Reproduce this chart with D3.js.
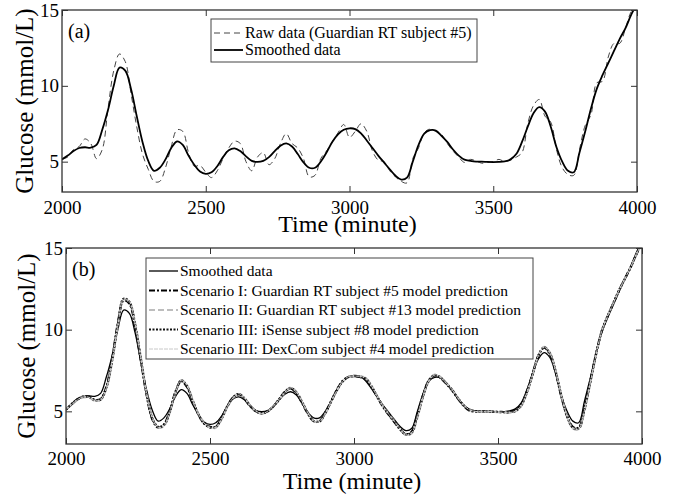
<!DOCTYPE html>
<html>
<head>
<meta charset="utf-8">
<script src="https://cdn.jsdelivr.net/npm/d3@7"></script>
<style>
  body { margin: 0; background: #fff; }
  svg { display: block; }
  svg text { font-family: "Liberation Serif", "Times New Roman", serif; fill: #000; }
</style>
</head>
<body>
<svg id="chart" width="677" height="494"></svg>
<script>
// sampling grid (minutes)
const times = d3.range(2000, 4001, 20);

const smoothed = [5.15,5.4,5.7,5.9,5.95,5.92,6.1,7.1,8.4,10.0,11.2,11.0,9.8,8.0,6.3,5.05,4.4,4.6,5.15,5.9,
  6.33,6.1,5.4,4.8,4.35,4.2,4.3,4.7,5.3,5.75,5.88,5.7,5.35,5.05,4.98,5.05,5.3,5.7,6.05,6.2,
  6.0,5.5,4.95,4.6,4.6,5.0,5.6,6.3,6.8,7.1,7.2,7.15,6.87,6.4,5.9,5.4,4.95,4.5,4.07,3.82,
  3.95,5.0,6.1,6.85,7.08,7.05,6.7,6.3,5.8,5.4,5.13,5.05,5.0,5.0,4.98,4.97,4.98,5.02,5.15,5.5,
  6.3,7.3,8.2,8.6,8.3,7.3,5.95,5.0,4.4,4.3,5.6,7.0,8.5,9.8,10.7,11.5,12.3,13.1,13.8,14.7,15.4];

const raw = [5.2,5.3,5.8,6.0,6.5,6.2,5.2,5.8,8.5,11.0,12.1,11.6,9.5,7.3,5.5,4.5,3.7,3.7,4.6,6.0,
  7.1,7.0,5.6,4.7,4.75,4.3,3.95,4.4,5.2,5.9,6.35,6.2,5.0,4.4,5.3,5.6,4.8,5.2,6.2,6.85,
  6.2,5.9,5.2,4.0,4.1,5.2,5.7,6.3,6.9,7.45,6.6,7.0,7.5,7.0,5.7,5.1,5.0,4.4,4.0,3.7,
  3.6,5.2,5.9,6.9,7.15,7.0,6.8,6.2,5.7,5.3,4.95,5.15,5.05,4.9,4.95,5.0,5.15,5.0,5.1,5.3,
  5.6,7.5,8.7,9.1,8.0,7.6,5.8,4.6,4.15,4.1,5.8,7.4,8.1,10.2,10.3,11.9,12.8,12.8,13.8,14.9,15.3];

const scen1 = [5.1,5.45,5.75,5.9,5.9,5.7,5.75,6.5,8.2,10.4,11.8,11.6,10.2,8.1,6.0,4.5,4.0,4.2,5.0,6.2,
  6.85,6.5,5.6,4.8,4.25,4.05,4.05,4.6,5.3,5.85,6.05,5.75,5.3,5.0,4.9,5.0,5.3,5.75,6.2,6.4,
  6.1,5.5,4.85,4.4,4.4,4.9,5.6,6.3,6.85,7.1,7.15,7.1,7.0,6.5,5.9,5.3,4.8,4.35,3.9,3.6,
  3.75,4.8,6.0,6.9,7.2,7.05,6.7,6.3,5.8,5.35,5.05,5.0,5.0,5.0,4.98,4.97,4.96,4.95,5.05,5.4,
  6.2,7.3,8.4,8.9,8.5,7.4,5.9,4.7,4.05,4.0,5.2,6.8,8.5,9.9,10.8,11.6,12.4,13.1,13.8,14.6,15.3];

const scen2 = [5.15,5.4,5.7,5.85,5.85,5.65,5.7,6.4,8.0,10.2,11.85,11.7,10.4,8.3,6.1,4.6,4.0,4.1,4.9,6.1,
  6.9,6.6,5.7,4.85,4.3,4.0,4.0,4.5,5.25,5.8,6.05,5.8,5.35,5.0,4.85,5.0,5.3,5.7,6.15,6.45,
  6.2,5.6,4.9,4.4,4.35,4.85,5.55,6.25,6.8,7.1,7.15,7.15,7.05,6.6,5.95,5.35,4.85,4.4,3.9,3.55,
  3.65,4.6,5.9,6.85,7.25,7.1,6.75,6.35,5.85,5.4,5.1,5.0,4.98,5.0,4.98,4.95,4.95,4.92,5.0,5.3,
  6.1,7.2,8.4,8.95,8.6,7.5,6.0,4.7,3.95,3.9,5.0,6.7,8.4,9.9,10.8,11.6,12.4,13.1,13.8,14.6,15.3];

const scen3 = [5.1,5.45,5.75,5.9,5.88,5.68,5.72,6.45,8.1,10.3,11.9,11.7,10.3,8.2,6.05,4.55,4.05,4.15,4.95,6.15,
  6.9,6.55,5.65,4.8,4.25,4.02,4.05,4.55,5.3,5.85,6.05,5.8,5.32,5.0,4.88,5.0,5.3,5.72,6.18,6.42,
  6.15,5.55,4.88,4.4,4.38,4.88,5.58,6.28,6.82,7.1,7.15,7.12,7.02,6.55,5.92,5.32,4.82,4.38,3.9,3.58,
  3.7,4.7,5.95,6.88,7.22,7.08,6.72,6.32,5.82,5.38,5.08,5.0,4.99,5.0,4.98,4.96,4.95,4.94,5.02,5.35,
  6.15,7.25,8.4,8.92,8.55,7.45,5.95,4.7,4.0,3.95,5.1,6.75,8.45,9.9,10.8,11.6,12.4,13.1,13.8,14.6,15.3];

const scen4 = [5.12,5.42,5.72,5.88,5.86,5.66,5.7,6.42,8.05,10.25,11.88,11.72,10.35,8.25,6.08,4.58,4.02,4.12,4.92,6.12,
  6.92,6.58,5.68,4.82,4.28,4.0,4.02,4.52,5.28,5.82,6.08,5.82,5.35,5.02,4.86,5.0,5.32,5.72,6.16,6.44,
  6.18,5.58,4.9,4.42,4.36,4.86,5.56,6.26,6.82,7.12,7.16,7.14,7.04,6.58,5.94,5.34,4.84,4.4,3.92,3.56,
  3.68,4.65,5.92,6.86,7.24,7.1,6.74,6.34,5.84,5.4,5.1,5.0,4.98,5.0,4.98,4.95,4.95,4.93,5.0,5.32,
  6.12,7.22,8.42,8.96,8.58,7.48,5.98,4.72,3.98,3.92,5.05,6.72,8.42,9.9,10.8,11.6,12.4,13.1,13.8,14.6,15.3];

const xTicks = [2000, 2500, 3000, 3500, 4000];
const yTicks = [5, 10, 15];
const legendA = ["Raw data (Guardian RT subject #5)", "Smoothed data"];
const legendB = ["Smoothed data",
  "Scenario I: Guardian RT subject #5 model prediction",
  "Scenario II: Guardian RT subject #13 model prediction",
  "Scenario III: iSense subject #8 model prediction",
  "Scenario III: DexCom subject #4 model prediction"];

const svg = d3.select("#chart");
const FONT = "Liberation Serif";

const styles = {
  raw:    { stroke: "#444", width: 1, dash: "6,4" },
  smooth: { stroke: "#000", width: 1.8, dash: null },
  smoothB:{ stroke: "#000", width: 1.3, dash: null },
  s1:     { stroke: "#000", width: 2.2, dash: "6,2,2,2" },
  s2:     { stroke: "#bdbdbd", width: 2.2, dash: "6,3" },
  s3:     { stroke: "#111", width: 2.2, dash: "2,1.5" },
  s4:     { stroke: "#c8c8c8", width: 1, dash: "4,1" }
};

function panel(id, box, series, label, legend, legBox) {
  const x = d3.scaleLinear().domain([2000, 4000]).range([box.l, box.r]);
  const y = d3.scaleLinear().domain([3, 15]).range([box.b, box.t]);
  const g = svg.append("g");

  g.append("clipPath").attr("id", "clip" + id)
    .append("rect").attr("x", box.l).attr("y", box.t)
    .attr("width", box.r - box.l).attr("height", box.b - box.t);

  const line = d3.line().x((d, i) => x(times[i])).y(d => y(d)).curve(d3.curveCatmullRom);
  const plot = g.append("g").attr("clip-path", `url(#clip${id})`);
  series.forEach(s => {
    plot.append("path").datum(s.values)
      .attr("d", line).attr("fill", "none")
      .attr("stroke", s.style.stroke).attr("stroke-width", s.style.width)
      .attr("stroke-dasharray", s.style.dash);
  });

  // axes: ticks inward on all four sides
  const tl = 6;
  g.append("g").attr("transform", `translate(0,${box.b})`)
    .call(d3.axisBottom(x).tickValues(xTicks).tickFormat(d3.format("d"))
      .tickSizeInner(-tl).tickSizeOuter(0).tickPadding(box.tp));
  g.append("g").attr("transform", `translate(0,${box.t})`)
    .call(d3.axisTop(x).tickValues(xTicks).tickSizeInner(-tl).tickSizeOuter(0).tickFormat(""));
  g.append("g").attr("transform", `translate(${box.l},0)`)
    .call(d3.axisLeft(y).tickValues(yTicks).tickSizeInner(-tl).tickSizeOuter(0).tickPadding(3));
  g.append("g").attr("transform", `translate(${box.r},0)`)
    .call(d3.axisRight(y).tickValues(yTicks).tickSizeInner(-tl).tickSizeOuter(0).tickFormat(""));
  g.selectAll(".domain").remove();
  g.selectAll("g").attr("font-family", FONT);
  g.selectAll(".tick line").attr("stroke", "#333");
  g.selectAll(".tick text").attr("font-size", 19).attr("font-family", FONT).attr("fill", "#000");

  g.append("rect").attr("x", box.l).attr("y", box.t)
    .attr("width", box.r - box.l).attr("height", box.b - box.t)
    .attr("fill", "none").attr("stroke", "#333").attr("stroke-width", 1.3);

  g.append("text").attr("x", box.l + 6).attr("y", box.t + 28)
    .attr("font-family", FONT).attr("font-size", 20).text(label);

  g.append("text").attr("x", (box.l + box.r) / 2 - 2).attr("y", box.b + box.xt)
    .attr("text-anchor", "middle").attr("font-family", FONT).attr("font-size", 24).text("Time (minute)");
  g.append("text")
    .attr("transform", `translate(${box.yl},${(box.t + box.b) / 2}) rotate(-90)`)
    .attr("text-anchor", "middle").attr("font-family", FONT).attr("font-size", 25).text("Glucose (mmol/L)");

  // legend
  const lg = g.append("g");
  lg.append("rect").attr("x", legBox.x).attr("y", legBox.y)
    .attr("width", legBox.w).attr("height", legBox.h)
    .attr("fill", "#fff").attr("stroke", "#444").attr("stroke-width", 1);
  legend.forEach((name, i) => {
    const cy = legBox.y + legBox.first + i * legBox.step;
    const st = legBox.styles[i];
    lg.append("line").attr("x1", legBox.x + 3).attr("x2", legBox.x + 32)
      .attr("y1", cy).attr("y2", cy)
      .attr("stroke", st.stroke).attr("stroke-width", st.width)
      .attr("stroke-dasharray", st.dash);
    lg.append("text").attr("x", legBox.x + 34).attr("y", cy + 5)
      .attr("font-family", FONT).attr("font-size", legBox.fs).text(name);
  });
}

panel("a", { l: 62, r: 637, t: 10, b: 192, xt: 40, yl: 33, tp: 9 },
  [{ values: raw, style: styles.raw }, { values: smoothed, style: styles.smooth }],
  "(a)", legendA,
  { x: 211, y: 19, w: 266, h: 43, first: 14, step: 17, fs: 16, styles: [styles.raw, styles.smooth] });

panel("b", { l: 66, r: 642, t: 248, b: 444, xt: 45, yl: 35, tp: 8 },
  [{ values: smoothed, style: styles.smoothB }, { values: scen1, style: styles.s1 },
   { values: scen2, style: styles.s2 }, { values: scen3, style: styles.s3 },
   { values: scen4, style: styles.s4 }],
  "(b)", legendB,
  { x: 146, y: 258, w: 387, h: 101, first: 13, step: 19.5, fs: 15.5,
    styles: [styles.smoothB, styles.s1, styles.s2, styles.s3, styles.s4] });
</script>
</body>
</html>
